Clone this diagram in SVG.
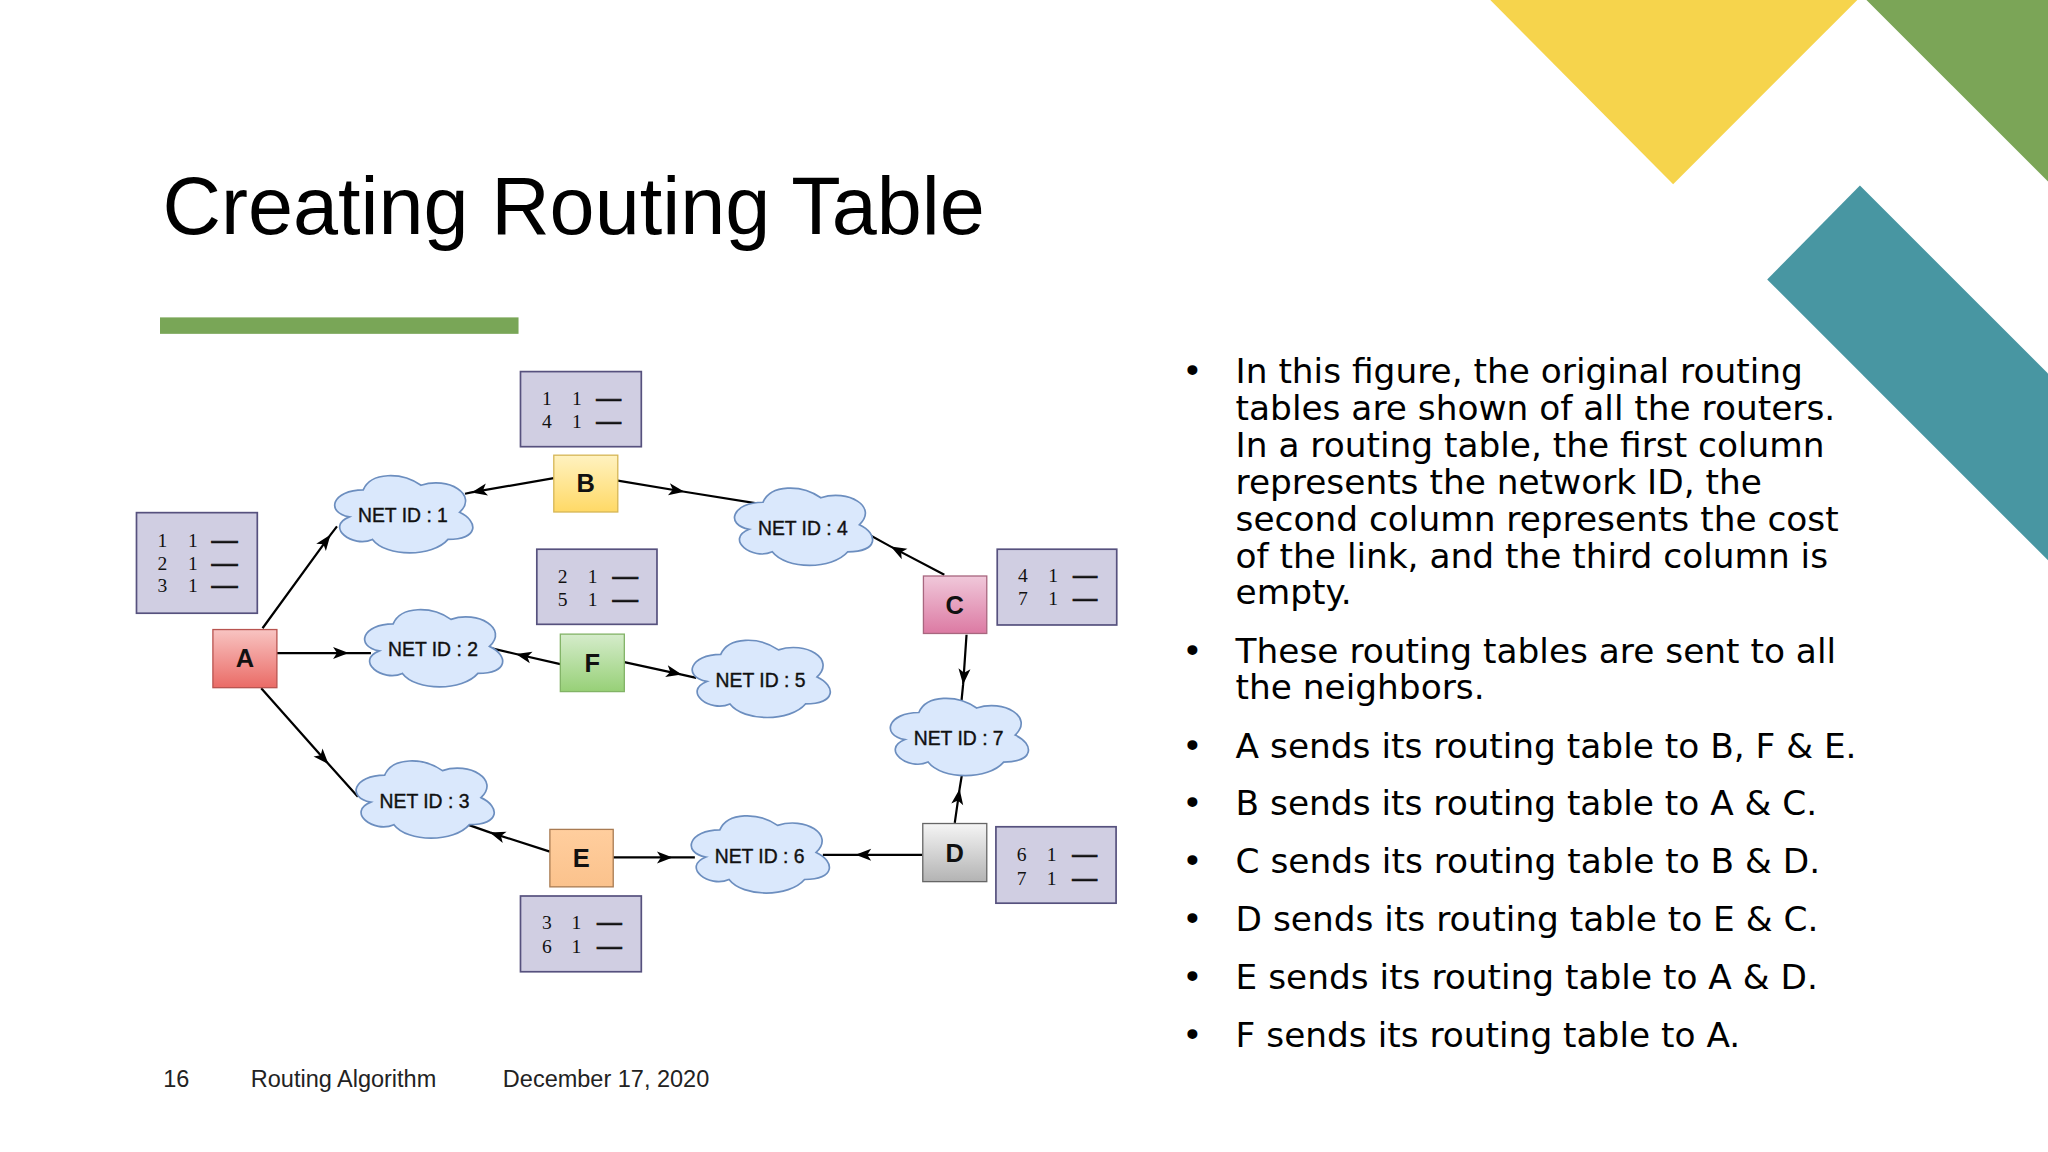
<svg xmlns="http://www.w3.org/2000/svg" width="2048" height="1152" viewBox="0 0 2048 1152">
<style>
.title{font-family:"Liberation Sans",Arial,sans-serif;font-size:62px;fill:#000}
.body{font-family:"DejaVu Sans",Verdana,sans-serif;font-size:26.3px;fill:#000}
.foot{font-family:"Liberation Sans",Arial,sans-serif;font-size:18px;fill:#222}
.tbl{fill:#d0cee2;stroke:#56517e;stroke-width:1.3}
.dig{font-family:"Liberation Serif","Times New Roman",serif;font-size:15px;fill:#111}
.dash{font-family:"Liberation Sans",Arial,sans-serif;font-size:14px;font-weight:bold;fill:#111;stroke:#111;stroke-width:0.5}
.rl{font-family:"Liberation Sans",Arial,sans-serif;font-size:19.5px;font-weight:bold;fill:#111;text-anchor:middle}
.cl{fill:#dae8fc;stroke:#6c8ebf;stroke-width:1.3}
.ct{font-family:"Liberation Sans",Arial,sans-serif;font-size:14.8px;fill:#111;stroke:#111;stroke-width:0.3;text-anchor:middle}
.edge{fill:none;stroke:#000;stroke-width:1.7;marker-mid:url(#arr)}
</style>
<defs>
<marker id="arr" viewBox="-13 -6 14 12" refX="0" refY="0" markerWidth="14" markerHeight="12" markerUnits="userSpaceOnUse" orient="auto">
<path d="M0,0 L-12,-4.6 L-9,0 L-12,4.6 Z" fill="#000"/>
</marker>
<path id="cloud" d="M-29.5,-18.98 C-53.1,-18.98 -59,-1.73 -40.12,1.73 C-59,9.32 -37.76,25.88 -22.42,18.98 C-11.8,32.78 23.6,32.78 35.4,18.98 C59,18.98 59,5.18 44.25,-1.73 C59,-15.53 35.4,-29.33 14.75,-22.43 C0,-32.78 -23.6,-32.78 -29.5,-18.98 Z"/>
<linearGradient id="gA" x1="0" y1="0" x2="0" y2="1"><stop offset="0" stop-color="#f8c4c2"/><stop offset="1" stop-color="#ea6b66"/></linearGradient>
<linearGradient id="gB" x1="0" y1="0" x2="0" y2="1"><stop offset="0" stop-color="#fff2c0"/><stop offset="1" stop-color="#ffd966"/></linearGradient>
<linearGradient id="gC" x1="0" y1="0" x2="0" y2="1"><stop offset="0" stop-color="#f0c8da"/><stop offset="1" stop-color="#dc7aa3"/></linearGradient>
<linearGradient id="gD" x1="0" y1="0" x2="0" y2="1"><stop offset="0" stop-color="#f5f5f5"/><stop offset="1" stop-color="#b3b3b3"/></linearGradient>
<linearGradient id="gE" x1="0" y1="0" x2="0" y2="1"><stop offset="0" stop-color="#ffce9e"/><stop offset="1" stop-color="#fbc28c"/></linearGradient>
<linearGradient id="gF" x1="0" y1="0" x2="0" y2="1"><stop offset="0" stop-color="#d5eccb"/><stop offset="1" stop-color="#97d077"/></linearGradient>
</defs>
<rect x="0" y="0" width="2048" height="1152" fill="#fff"/>
<g transform="scale(1.306122)">
<g id="decor">
<polygon points="1141,0 1422,0 1281,141" fill="#f6d44c"/>
<polygon points="1429,0 1568,0 1568,139" fill="#7ba557"/>
<polygon points="1424,142 1568,286 1568,429 1353,214" fill="#4896a2"/>
<rect x="122.5" y="243" width="274.5" height="12.6" fill="#79a657"/>
</g>
<text class="title" x="124.5" y="179">Creating Routing Table</text>

<g id="connectors">
<path class="edge" d="M201,481 L253,409.5 L258,403"/>
<path class="edge" d="M424,366 L361,377 L356,378"/>
<path class="edge" d="M473,368 L524,376.5 L583,386"/>
<path class="edge" d="M723,440 L682,418.5 L661,407"/>
<path class="edge" d="M740,486 L737.4,524 L736,538"/>
<path class="edge" d="M731,630 L734.7,604 L736.5,593"/>
<path class="edge" d="M706,654.5 L655,654.5 L630,654.5"/>
<path class="edge" d="M469,656.5 L515,656.5 L532,656.5"/>
<path class="edge" d="M421,652 L375,637.3 L357,631"/>
<path class="edge" d="M200,527 L251.5,585 L274,610"/>
<path class="edge" d="M212,500 L267,500 L284,500"/>
<path class="edge" d="M429,508.5 L395,500.7 L375,496"/>
<path class="edge" d="M478,507 L522,516.5 L533,519"/>
</g>

<g id="table-A"><rect class="tbl" x="104.5" y="392.5" width="92.5" height="77"/>
<text class="dig"><tspan x="120.5" y="419">1</tspan><tspan x="144" y="419">1</tspan></text><text class="dash" x="162" y="419" textLength="20" lengthAdjust="spacingAndGlyphs">—</text>
<text class="dig"><tspan x="120.5" y="436.5">2</tspan><tspan x="144" y="436.5">1</tspan></text><text class="dash" x="162" y="436.5" textLength="20" lengthAdjust="spacingAndGlyphs">—</text>
<text class="dig"><tspan x="120.5" y="453.5">3</tspan><tspan x="144" y="453.5">1</tspan></text><text class="dash" x="162" y="453.5" textLength="20" lengthAdjust="spacingAndGlyphs">—</text>
</g>
<g id="table-B"><rect class="tbl" x="398.5" y="284.5" width="92.5" height="57.5"/>
<text class="dig"><tspan x="415" y="310">1</tspan><tspan x="438" y="310">1</tspan></text><text class="dash" x="456.5" y="310" textLength="19" lengthAdjust="spacingAndGlyphs">—</text>
<text class="dig"><tspan x="415" y="328">4</tspan><tspan x="438" y="328">1</tspan></text><text class="dash" x="456.5" y="328" textLength="19" lengthAdjust="spacingAndGlyphs">—</text>
</g>
<g id="table-F"><rect class="tbl" x="411" y="420.5" width="92" height="57.5"/>
<text class="dig"><tspan x="427" y="446">2</tspan><tspan x="450" y="446">1</tspan></text><text class="dash" x="469" y="446" textLength="19.5" lengthAdjust="spacingAndGlyphs">—</text>
<text class="dig"><tspan x="427" y="464">5</tspan><tspan x="450" y="464">1</tspan></text><text class="dash" x="469" y="464" textLength="19.5" lengthAdjust="spacingAndGlyphs">—</text>
</g>
<g id="table-C"><rect class="tbl" x="763.5" y="420.5" width="91.5" height="58"/>
<text class="dig"><tspan x="779.5" y="445.5">4</tspan><tspan x="802.5" y="445.5">1</tspan></text><text class="dash" x="821.5" y="445.5" textLength="18.5" lengthAdjust="spacingAndGlyphs">—</text>
<text class="dig"><tspan x="779.5" y="463.5">7</tspan><tspan x="802.5" y="463.5">1</tspan></text><text class="dash" x="821.5" y="463.5" textLength="18.5" lengthAdjust="spacingAndGlyphs">—</text>
</g>
<g id="table-D"><rect class="tbl" x="762.5" y="633" width="92" height="58.5"/>
<text class="dig"><tspan x="778.5" y="659.5">6</tspan><tspan x="801.5" y="659.5">1</tspan></text><text class="dash" x="821" y="659.5" textLength="19" lengthAdjust="spacingAndGlyphs">—</text>
<text class="dig"><tspan x="778.5" y="677.5">7</tspan><tspan x="801.5" y="677.5">1</tspan></text><text class="dash" x="821" y="677.5" textLength="19" lengthAdjust="spacingAndGlyphs">—</text>
</g>
<g id="table-E"><rect class="tbl" x="398.5" y="686" width="92.5" height="58"/>
<text class="dig"><tspan x="415" y="711.5">3</tspan><tspan x="437.5" y="711.5">1</tspan></text><text class="dash" x="457" y="711.5" textLength="19" lengthAdjust="spacingAndGlyphs">—</text>
<text class="dig"><tspan x="415" y="729.5">6</tspan><tspan x="437.5" y="729.5">1</tspan></text><text class="dash" x="457" y="729.5" textLength="19" lengthAdjust="spacingAndGlyphs">—</text>
</g>

<g id="router-A"><rect x="163" y="482" width="49" height="44.5" fill="url(#gA)" stroke="#b85450" stroke-width="1"/><text class="rl" x="187.5" y="511">A</text></g>
<g id="router-B"><rect x="424" y="348.5" width="49" height="43.5" fill="url(#gB)" stroke="#d6b656" stroke-width="1"/><text class="rl" x="448.5" y="377">B</text></g>
<g id="router-C"><rect x="707" y="441" width="48.5" height="44" fill="url(#gC)" stroke="#a8667f" stroke-width="1"/><text class="rl" x="731" y="470">C</text></g>
<g id="router-D"><rect x="706.5" y="630.5" width="49" height="44.5" fill="url(#gD)" stroke="#666" stroke-width="1"/><text class="rl" x="731" y="660">D</text></g>
<g id="router-E"><rect x="421" y="635" width="48.5" height="44" fill="url(#gE)" stroke="#a97b52" stroke-width="1"/><text class="rl" x="445" y="664">E</text></g>
<g id="router-F"><rect x="429" y="485.5" width="49" height="44" fill="url(#gF)" stroke="#82b366" stroke-width="1"/><text class="rl" x="453.5" y="514.5">F</text></g>

<g id="net-1"><use href="#cloud" class="cl" x="307.6" y="394"/><text class="ct" x="308.5" y="400">NET ID : 1</text></g>
<g id="net-2"><use href="#cloud" class="cl" x="330.5" y="496.6"/><text class="ct" x="331.5" y="502.6">NET ID : 2</text></g>
<g id="net-3"><use href="#cloud" class="cl" x="324" y="612.4"/><text class="ct" x="325" y="618.4">NET ID : 3</text></g>
<g id="net-4"><use href="#cloud" class="cl" x="613.7" y="403.5"/><text class="ct" x="614.7" y="409.5">NET ID : 4</text></g>
<g id="net-5"><use href="#cloud" class="cl" x="581.3" y="520"/><text class="ct" x="582.3" y="526">NET ID : 5</text></g>
<g id="net-6"><use href="#cloud" class="cl" x="580.6" y="654.4"/><text class="ct" x="581.6" y="660.4">NET ID : 6</text></g>
<g id="net-7"><use href="#cloud" class="cl" x="733" y="564.5"/><text class="ct" x="734" y="570.5">NET ID : 7</text></g>

<g id="bullets">
<text class="body" x="913" y="293" text-anchor="middle">•</text>
<text class="body" x="946" y="293">In this figure, the original routing</text>
<text class="body" x="946" y="321.3">tables are shown of all the routers.</text>
<text class="body" x="946" y="349.6">In a routing table, the first column</text>
<text class="body" x="946" y="378">represents the network ID, the</text>
<text class="body" x="946" y="406.2">second column represents the cost</text>
<text class="body" x="946" y="434.5">of the link, and the third column is</text>
<text class="body" x="946" y="462.8">empty.</text>
<text class="body" x="913" y="507.5" text-anchor="middle">•</text>
<text class="body" x="946" y="507.5">These routing tables are sent to all</text>
<text class="body" x="946" y="535.5">the neighbors.</text>
<text class="body" x="913" y="580" text-anchor="middle">•</text>
<text class="body" x="946" y="580">A sends its routing table to B, F &amp; E.</text>
<text class="body" x="913" y="624.3" text-anchor="middle">•</text>
<text class="body" x="946" y="624.3">B sends its routing table to A &amp; C.</text>
<text class="body" x="913" y="668.6" text-anchor="middle">•</text>
<text class="body" x="946" y="668.6">C sends its routing table to B &amp; D.</text>
<text class="body" x="913" y="713" text-anchor="middle">•</text>
<text class="body" x="946" y="713">D sends its routing table to E &amp; C.</text>
<text class="body" x="913" y="757.4" text-anchor="middle">•</text>
<text class="body" x="946" y="757.4">E sends its routing table to A &amp; D.</text>
<text class="body" x="913" y="801.8" text-anchor="middle">•</text>
<text class="body" x="946" y="801.8">F sends its routing table to A.</text>
</g>

<g id="footer">
<text class="foot" x="125" y="832">16</text>
<text class="foot" x="192" y="832">Routing Algorithm</text>
<text class="foot" x="385" y="832">December 17, 2020</text>
</g>
</g>
</svg>
